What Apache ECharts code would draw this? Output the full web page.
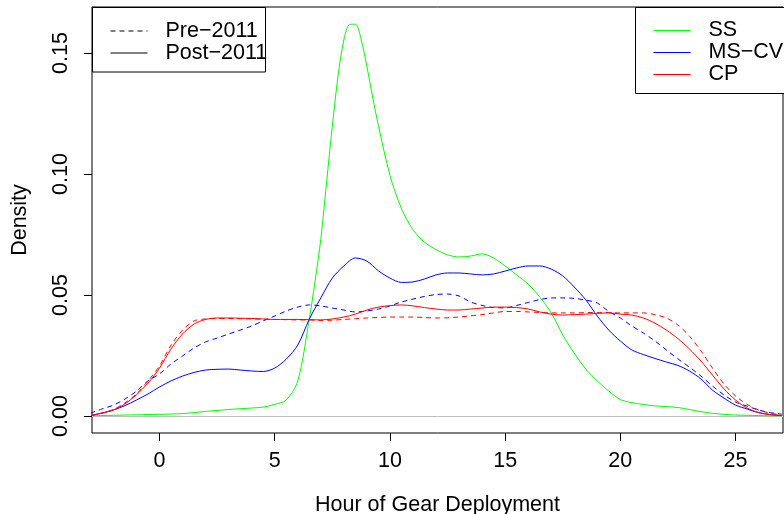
<!DOCTYPE html>
<html>
<head>
<meta charset="utf-8">
<script src="https://cdn.jsdelivr.net/npm/echarts@6/dist/echarts.min.js"></script>
<style>
  html, body { margin: 0; padding: 0; background: #fff; }
  #chart { width: 784px; height: 514px; }
</style>
</head>
<body>
<div id="chart"></div>
<script>
// 小时 (x)
const hours = [-3, -2.5, -2, -1.5, -1, -0.5, 0, 0.5, 1, 1.5, 2, 2.5, 3, 3.5, 4, 4.5, 5, 5.5, 6, 6.5,
  7, 7.5, 8, 8.5, 9, 9.5, 10, 10.5, 11, 11.5, 12, 12.5, 13, 13.5, 14, 14.5, 15, 15.5, 16, 16.5,
  17, 17.5, 18, 18.5, 19, 19.5, 20, 20.5, 21, 21.5, 22, 22.5, 23, 23.5, 24, 24.5, 25, 25.5, 26, 26.5, 27];

// SS 的峰比较尖, 取点更密
const ssHours = [-3, -2.5, -2, -1.5, -1, -0.5, 0, 0.5, 1, 1.5, 2, 2.5, 3, 3.5, 4, 4.5, 5, 5.5, 6, 6.5,
  6.75, 7, 7.25, 7.5, 7.75, 8, 8.25, 8.5, 8.75, 9, 9.25, 9.5, 10, 10.5, 11, 11.5, 12, 12.5, 13, 13.5,
  14, 14.5, 15, 15.5, 16, 16.5, 17, 17.5, 18, 18.5, 19, 19.5, 20, 20.5, 21, 21.5, 22, 22.5, 23, 23.5,
  24, 24.5, 25, 25.5, 26, 26.5, 27];

// SS (Post-2011)
const ssPost = [0.0002, 0.0002, 0.0003, 0.0004, 0.0005, 0.0006, 0.0007, 0.0008, 0.0010, 0.0014,
  0.0019, 0.0023, 0.0027, 0.0030, 0.0033, 0.0037, 0.0048, 0.0066, 0.0145, 0.0400,
  0.0556, 0.0730, 0.0964, 0.1198, 0.1406, 0.1554, 0.1618, 0.1619, 0.1557, 0.1444,
  0.1318, 0.1200, 0.0995, 0.0857, 0.0770, 0.0718, 0.0688, 0.0666, 0.0657, 0.0661,
  0.0670, 0.0653, 0.0620, 0.0583, 0.0545, 0.0492, 0.0426, 0.0335, 0.0260, 0.0194,
  0.0145, 0.0103, 0.0068, 0.0055, 0.0048, 0.0042, 0.0039, 0.0035, 0.0027, 0.0018,
  0.0011, 0.0007, 0.0004, 0.0003, 0.0002, 0.0001, 0.0001];

// MS-CV
const mscvPost = [0.0002, 0.0012, 0.0025, 0.0043, 0.0066, 0.0091, 0.0120, 0.0145, 0.0165, 0.0180,
  0.0190, 0.0193, 0.0194, 0.0190, 0.0186, 0.0184, 0.0198, 0.0235, 0.0293, 0.0400,
  0.0488, 0.0570, 0.0620, 0.0653, 0.0640, 0.0600, 0.0570, 0.0552, 0.0554, 0.0566,
  0.0583, 0.0591, 0.0591, 0.0587, 0.0583, 0.0587, 0.0599, 0.0612, 0.0620, 0.0620,
  0.0607, 0.0579, 0.0533, 0.0480, 0.0413, 0.0355, 0.0310, 0.0273, 0.0254, 0.0238,
  0.0223, 0.0209, 0.0186, 0.0153, 0.0107, 0.0074, 0.0045, 0.0029, 0.0014, 0.0006, 0.0002];
const mscvPre = [0.0012, 0.0029, 0.0045, 0.0070, 0.0103, 0.0145, 0.0174, 0.0215, 0.0248, 0.0281,
  0.0306, 0.0322, 0.0339, 0.0355, 0.0372, 0.0393, 0.0413, 0.0434, 0.0450, 0.0459,
  0.0455, 0.0446, 0.0438, 0.0430, 0.0434, 0.0442, 0.0455, 0.0471, 0.0483, 0.0494,
  0.0502, 0.0504, 0.0496, 0.0471, 0.0457, 0.0448, 0.0447, 0.0457, 0.0469, 0.0481,
  0.0488, 0.0488, 0.0486, 0.0479, 0.0467, 0.0432, 0.0405, 0.0372, 0.0343, 0.0310,
  0.0273, 0.0236, 0.0202, 0.0165, 0.0124, 0.0087, 0.0058, 0.0041, 0.0025, 0.0014, 0.0008];

// CP
const cpPost = [0.0002, 0.0012, 0.0025, 0.0050, 0.0088, 0.0136, 0.0198, 0.0277, 0.0339, 0.0380,
  0.0399, 0.0405, 0.0405, 0.0404, 0.0403, 0.0401, 0.0399, 0.0399, 0.0399, 0.0398,
  0.0397, 0.0401, 0.0409, 0.0421, 0.0438, 0.0450, 0.0456, 0.0459, 0.0455, 0.0448,
  0.0442, 0.0438, 0.0438, 0.0442, 0.0446, 0.0450, 0.0450, 0.0448, 0.0442, 0.0430,
  0.0421, 0.0417, 0.0419, 0.0421, 0.0424, 0.0426, 0.0421, 0.0417, 0.0405, 0.0384,
  0.0355, 0.0320, 0.0277, 0.0227, 0.0169, 0.0112, 0.0066, 0.0033, 0.0014, 0.0006, 0.0002];
const cpPre = [0.0003, 0.0012, 0.0027, 0.0054, 0.0091, 0.0145, 0.0207, 0.0293, 0.0355, 0.0393,
  0.0401, 0.0403, 0.0403, 0.0402, 0.0401, 0.0400, 0.0399, 0.0398, 0.0397, 0.0397,
  0.0395, 0.0396, 0.0399, 0.0402, 0.0405, 0.0407, 0.0409, 0.0409, 0.0409, 0.0407,
  0.0405, 0.0406, 0.0409, 0.0414, 0.0419, 0.0426, 0.0432, 0.0432, 0.0430, 0.0428,
  0.0426, 0.0426, 0.0426, 0.0427, 0.0428, 0.0427, 0.0426, 0.0426, 0.0426, 0.0419,
  0.0405, 0.0376, 0.0330, 0.0269, 0.0198, 0.0132, 0.0083, 0.0048, 0.0025, 0.0012, 0.0004];

// 刻度
const xTicks = [0, 5, 10, 15, 20, 25];
const yTicks = [0, 0.05, 0.10, 0.15];

const FONT = 'Liberation Sans';
const FS = 21.5;
const DASH = [5, 4];

function pairs(xs, ys) {
    return xs.map((h, i) => [h, ys[i]]);
}

function densityLine(name, color, xs, ys, dashed) {
    return {
        name: name,
        type: 'line',
        data: pairs(xs, ys),
        smooth: 0.3,
        symbol: 'none',
        showSymbol: false,
        color: color,
        lineStyle: { color: color, width: 1, type: dashed ? DASH : 'solid' },
        z: 3
    };
}

const chart = echarts.init(document.getElementById('chart'), null, { renderer: 'canvas' });

const series = [
    densityLine('SS', '#00ff00', ssHours, ssPost, false),
    densityLine('MS\u2212CV', '#0000ff', hours, mscvPost, false),
    densityLine('MS\u2212CV pre', '#0000ff', hours, mscvPre, true),
    densityLine('CP', '#ff0000', hours, cpPost, false),
    densityLine('CP pre', '#ff0000', hours, cpPre, true),
    // 图例用
    { name: 'Pre\u22122011', type: 'line', data: [], symbol: 'none', color: '#000',
      lineStyle: { color: '#000', width: 1, type: DASH } },
    { name: 'Post\u22122011', type: 'line', data: [], symbol: 'none', color: '#000',
      lineStyle: { color: '#000', width: 1, type: 'solid' } }
];

// 零线
series[0].markLine = {
    silent: true,
    symbol: 'none',
    label: { show: false },
    lineStyle: { color: '#bebebe', width: 1, type: 'solid' },
    data: [{ yAxis: 0 }],
    z: 1
};

const legendText = { fontFamily: FONT, fontSize: FS, color: '#000', lineHeight: FS, padding: [0, 0, 0, 13] };

function legendBox(names, left, top) {
    return {
        data: names,
        orient: 'vertical',
        left: left, top: top,
        padding: 0,
        itemGap: 0,
        itemWidth: 37, itemHeight: 2,
        itemStyle: { opacity: 0 },
        lineStyle: { width: 1 },
        textStyle: legendText,
        selectedMode: false,
        z: 6
    };
}

const option = {
    animation: false,
    backgroundColor: '#fff',
    textStyle: { fontFamily: FONT },
    grid: {
        left: 92, top: 7, width: 691, height: 426,
        outerBoundsMode: 'none',
        containLabel: false,
        show: true, borderColor: '#000', borderWidth: 1, backgroundColor: 'transparent'
    },
    xAxis: {
        type: 'value',
        min: -2.93, max: 27.06,
        axisLine: { show: false, onZero: false },
        splitLine: { show: false },
        axisTick: { show: true, customValues: xTicks, length: 8, lineStyle: { color: '#000' } },
        axisLabel: { customValues: xTicks, fontSize: FS, color: '#000', margin: 17, fontFamily: FONT },
        name: 'Hour of Gear Deployment',
        nameLocation: 'middle',
        nameGap: 61,
        nameTextStyle: { fontSize: FS, color: '#000', fontFamily: FONT }
    },
    yAxis: {
        type: 'value',
        min: -0.00702, max: 0.169,
        axisLine: { show: false, onZero: false },
        splitLine: { show: false },
        axisTick: { show: true, customValues: yTicks, length: 8, lineStyle: { color: '#000' } },
        axisLabel: {
            customValues: yTicks, rotate: 90, fontSize: FS, color: '#000', margin: 20, fontFamily: FONT,
            formatter: v => v.toFixed(2)
        },
        name: 'Density',
        nameLocation: 'middle',
        nameGap: 61,
        nameTextStyle: { fontSize: FS, color: '#000', fontFamily: FONT }
    },
    legend: [
        legendBox(['Pre\u22122011', 'Post\u22122011'], 110, 20),
        legendBox(['SS', 'MS\u2212CV', 'CP'], 653, 19.5)
    ],
    graphic: [
        { type: 'rect', z: 5, shape: { x: 92.5, y: 7.5, width: 173, height: 64.5 },
          style: { fill: '#fff', stroke: '#000', lineWidth: 1 } },
        { type: 'rect', z: 5, shape: { x: 635.5, y: 7.5, width: 160, height: 86 },
          style: { fill: '#fff', stroke: '#000', lineWidth: 1 } }
    ],
    series: series
};

chart.setOption(option);
</script>
</body>
</html>
